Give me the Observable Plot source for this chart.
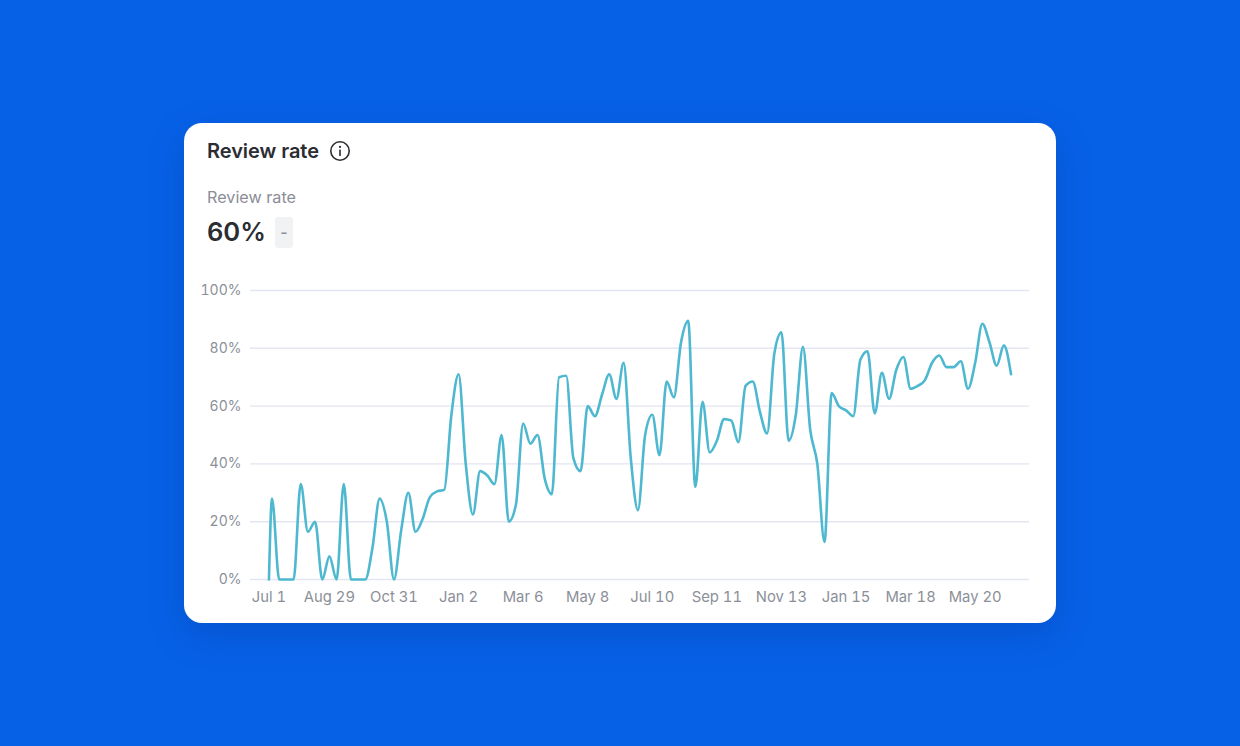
<!DOCTYPE html>
<html>
<head>
<meta charset="utf-8">
<script src="https://cdn.jsdelivr.net/npm/d3@7"></script>
<script src="https://cdn.jsdelivr.net/npm/@observablehq/plot@0.6"></script>
<style>
  html, body { margin: 0; padding: 0; width: 1240px; height: 746px; overflow: hidden; background: #0761E7; }
  body { font-family: Inter, "Noto Sans", sans-serif; position: relative; }
  #card { position: absolute; left: 184px; top: 123px; width: 872px; height: 500px; background: #fff; border-radius: 18px; box-shadow: 0 12px 36px rgba(3,40,120,0.22); }
  #card > * { position: absolute; }
  #title { left: 23px; top: 15px; font-size: 20px; font-weight: 600; color: #2B2D33; line-height: 26px; white-space: nowrap; letter-spacing: -0.05px; }
  #info { left: 145px; top: 17px; width: 22px; height: 22px; }
  #sub { left: 23px; top: 64px; font-size: 16.2px; color: #8B8E96; line-height: 20px; white-space: nowrap; }
  #value { left: 23px; top: 91px; font-size: 25.6px; font-weight: 600; color: #2B2D33; line-height: 36px; white-space: nowrap; }
  #chip { left: 91px; top: 94px; width: 18px; height: 31px; border-radius: 3px; background: #F1F2F4; color: #8B8E96; font-size: 16px; font-weight: 500; line-height: 31px; text-align: center; }
  #chart { left: 0; top: 147px; }
  #chart svg { display: block; }
</style>
</head>
<body>
<div id="card">
  <div id="title">Review rate</div>
  <svg id="info" viewBox="0 0 22 22"><circle cx="11" cy="11" r="9.2" fill="none" stroke="#2B2D33" stroke-width="1.6"/><rect x="10.2" y="9.6" width="1.6" height="6.4" fill="#2B2D33"/><circle cx="11" cy="6.9" r="1.1" fill="#2B2D33"/></svg>
  <div id="sub">Review rate</div>
  <div id="value">60%</div>
  <div id="chip">-</div>
  <div id="chart"></div>
</div>
<script>
const rates = [0,
  28, 0, 0, 0, 33, 16.5, 20, 0, 8, 0,
  33, 0, 0, 0, 11, 28, 20, 0, 17, 30,
  16.5, 21, 28.5, 30.5, 31, 57, 71, 40, 22.5, 37.5,
  36, 33, 50, 20, 26, 54, 47, 50, 35, 29.5,
  70, 70.5, 42, 37.5, 60, 56.5, 64, 71, 62.5, 75,
  42, 24, 50, 57, 43, 68.5, 63, 82, 89.5, 32,
  61.5, 44, 48, 55.5, 55, 47.5, 67, 68.5, 58, 50.5,
  78, 85.5, 48, 57, 80.5, 52, 40, 13, 64.5, 60,
  58.5, 56.5, 76, 79, 57.5, 71.5, 62.5, 72.5, 77, 66,
  67, 69, 75, 77.5, 73.5, 73.5, 75.5, 66, 75, 88.5,
  82, 74, 81, 71];
const firstDay = "2022-07-01";
const firstMonday = "2022-07-04";
const lastMonday = "2024-06-24";
const tickDays = ["2022-07-01","2022-08-29","2022-10-31","2023-01-02","2023-03-06","2023-05-08","2023-07-10","2023-09-11","2023-11-13","2024-01-15","2024-03-18","2024-05-20"];
const tickLabels = ["Jul 1","Aug 29","Oct 31","Jan 2","Mar 6","May 8","Jul 10","Sep 11","Nov 13","Jan 15","Mar 18","May 20"];
const yTicks = [0, 20, 40, 60, 80, 100];
const xDomain = ["2022-06-13", "2024-07-12"];

const mondays = d3.utcMonday.range(new Date(firstMonday), d3.utcDay.offset(new Date(lastMonday), 1));
const dates = [new Date(firstDay), ...mondays];
const table = dates.map((date, i) => ({date, rate: rates[i]}));
const tickDates = tickDays.map(d => new Date(d));
const labelFor = new Map(tickDates.map((d, i) => [+d, tickLabels[i]]));

const plot = Plot.plot({
  width: 872,
  height: 350,
  marginLeft: 66,
  marginRight: 27,
  marginTop: 20,
  marginBottom: 41,
  style: {background: "transparent", fontFamily: "Inter, 'Noto Sans', sans-serif", color: "#8B8F98"},
  x: {type: "utc", domain: xDomain.map(d => new Date(d))},
  y: {domain: [0, 100]},
  marks: [
    Plot.ruleY(yTicks, {stroke: "#E3E5F2", strokeWidth: 1.4}),
    Plot.axisY({ticks: yTicks, tickFormat: d => d + "%", tickSize: 0, tickPadding: 9, label: null, fill: "#8B8F98", fontSize: 14}),
    Plot.axisX({ticks: tickDates, tickFormat: d => labelFor.get(+d), tickSize: 0, tickPadding: 12, label: null, fill: "#8B8F98", fontSize: 14.8}),
    Plot.line(table, {x: "date", y: "rate", curve: "monotone-x", stroke: "#4DB8CF", strokeWidth: 2.6})
  ]
});
document.getElementById("chart").appendChild(plot);
</script>
</body>
</html>
